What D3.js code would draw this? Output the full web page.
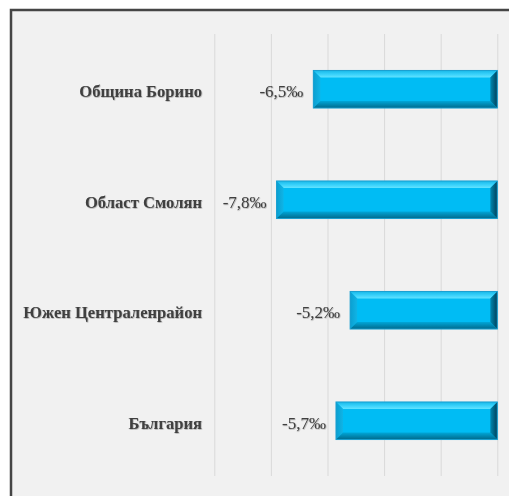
<!DOCTYPE html>
<html><head><meta charset="utf-8">
<script src="https://cdn.jsdelivr.net/npm/d3@7"></script>
<style>html,body{margin:0;padding:0;background:#fff}svg{display:block}</style>
</head><body>
<script>
const categories = ["Община Борино", "Област Смолян", "Южен Централенрайон", "България"];
const values = [-6.5, -7.8, -5.2, -5.7];
const valueLabels = ["-6,5‰", "-7,8‰", "-5,2‰", "-5,7‰"];
const tickValues = [-10, -8, -6, -4, -2, 0];

const W = 509, H = 496;
const svg = d3.select("body").append("svg").attr("width", W).attr("height", H);
svg.append("rect").attr("width", W).attr("height", H).attr("fill", "#fff");
svg.append("rect").attr("x", 11).attr("y", 10).attr("width", 520).attr("height", 520)
  .attr("fill", "#f1f1f1").attr("stroke", "#454545").attr("stroke-width", 2.5);

const x = d3.scaleLinear().domain([-10, 0]).range([214.3, 497.3]);
const y = d3.scaleBand().domain(categories).range([34, 476]).paddingInner(0.66).paddingOuter(0.33);

const gx = svg.append("g").attr("transform", "translate(0,476)")
  .call(d3.axisBottom(x).tickValues(tickValues).tickSize(-442).tickFormat(""));
gx.select(".domain").remove();
gx.selectAll(".tick line").attr("stroke", "#d9d9d9").attr("stroke-width", 1);

const defs = svg.append("defs");
const f = defs.append("filter").attr("id", "ts").attr("x", "-10%").attr("y", "-30%").attr("width", "120%").attr("height", "160%");
f.append("feDropShadow").attr("dx", 0.6).attr("dy", 0.6).attr("stdDeviation", 0.5).attr("flood-color", "#000").attr("flood-opacity", 0.35);

function grad(id, x1, y1, x2, y2, stops) {
  const lg = defs.append("linearGradient").attr("id", id)
    .attr("x1", x1).attr("y1", y1).attr("x2", x2).attr("y2", y2);
  stops.forEach(s => lg.append("stop").attr("offset", s[0]).attr("stop-color", s[1]));
}
grad("gTop", 0, 0, 0, 1, [[0, "#18b8e8"], [0.5, "#36d0fa"], [1, "#62e2ff"]]);
grad("gBot", 0, 0, 0, 1, [[0, "#00a6d8"], [1, "#006a8c"]]);
grad("gRight", 0, 0, 1, 0, [[0, "#0088b0"], [1, "#00405a"]]);
grad("gLeft", 0, 0, 1, 0, [[0, "#0b9fd0"], [1, "#10b4e6"]]);

const data = categories.map((c, i) => ({c, v: values[i], l: valueLabels[i]}));
const bw = 7;
const g = svg.append("g");
data.forEach(d => {
  const x0 = x(d.v), x1 = x(0), y0 = y(d.c), y1 = y0 + y.bandwidth();
  const bg = g.append("g");
  bg.append("rect").attr("x", x0).attr("y", y0).attr("width", x1 - x0).attr("height", y1 - y0).attr("fill", "#00bcf4");
  bg.append("polygon").attr("points", [[x0,y0],[x1,y0],[x1-bw,y0+bw],[x0+bw,y0+bw]].join(" ")).attr("fill", "url(#gTop)");
  bg.append("polygon").attr("points", [[x0,y0],[x0+bw,y0+bw],[x0+bw,y1-bw],[x0,y1]].join(" ")).attr("fill", "url(#gLeft)");
  bg.append("polygon").attr("points", [[x0,y1],[x0+bw,y1-bw],[x1-bw,y1-bw],[x1,y1]].join(" ")).attr("fill", "url(#gBot)");
  bg.append("polygon").attr("points", [[x1,y0],[x1-bw,y0+bw],[x1-bw,y1-bw],[x1,y1]].join(" ")).attr("fill", "url(#gRight)");
  bg.append("rect").attr("x", x0).attr("y", y0).attr("width", x1 - x0).attr("height", y1 - y0)
    .attr("fill", "none").attr("stroke", "#1a9fd0").attr("stroke-width", 1);

  svg.append("text").attr("x", x0 - 10).attr("y", y0 + y.bandwidth()/2 + 2).attr("dy", "0.35em")
    .attr("text-anchor", "end").attr("font-family", "Liberation Serif, serif").attr("font-size", 17)
    .attr("fill", "#404040").attr("filter", "url(#ts)").text(d.l);
  svg.append("text").attr("x", 202).attr("y", y0 + y.bandwidth()/2 + 2).attr("dy", "0.35em")
    .attr("text-anchor", "end").attr("font-family", "Liberation Serif, serif").attr("font-weight", "bold").attr("font-size", 16.6)
    .attr("fill", "#404040").attr("filter", "url(#ts)").text(d.c);
});
</script>
</body></html>
